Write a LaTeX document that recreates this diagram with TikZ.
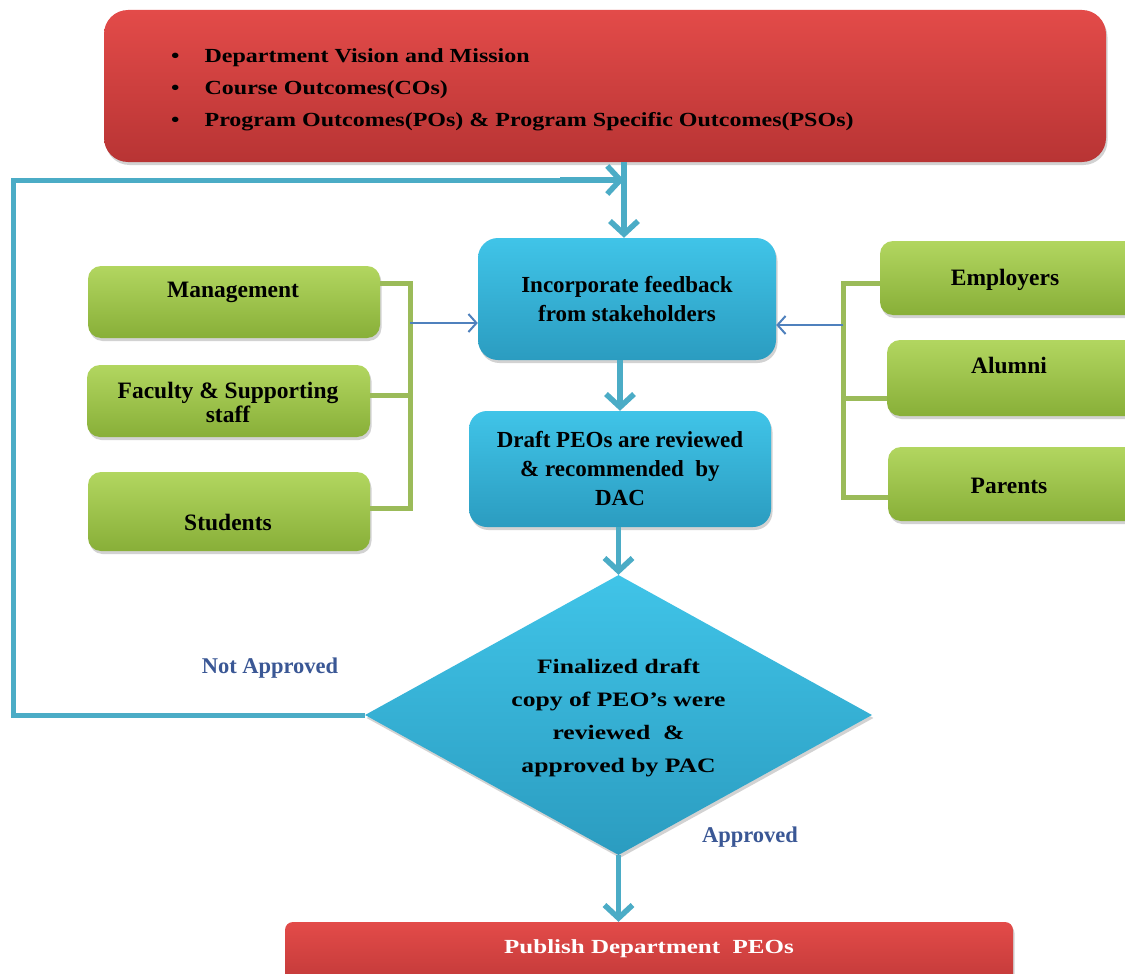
\documentclass[tikz,border=0pt]{standalone}
\usepackage{fontspec}
\setmainfont{Liberation Serif}
\newfontfamily\widefont{Liberation Serif}[FakeStretch=1.2]
\newfontfamily\widerfont{Liberation Serif}[FakeStretch=1.25]
\usetikzlibrary{shapes.geometric,arrows.meta,shadows,calc}
\definecolor{redT}{HTML}{E34B49}
\definecolor{redB}{HTML}{B83434}
\definecolor{bluT}{HTML}{40C4E8}
\definecolor{bluB}{HTML}{2B9CC0}
\definecolor{grnT}{HTML}{B2D660}
\definecolor{grnB}{HTML}{88AF38}
\definecolor{flowc}{HTML}{4BACC6}
\definecolor{brk}{HTML}{9BBB59}
\definecolor{fbc}{HTML}{4F81BD}
\definecolor{labc}{HTML}{3A5795}
\begin{document}
\begin{tikzpicture}[x=1pt,y=-1pt,
  shad/.style={drop shadow={opacity=0.35,shadow xshift=1.5pt,shadow yshift=-3pt}},
  redbox/.style={rectangle,rounded corners=24pt,top color=redT,bottom color=redB,draw=none,shad},
  blubox/.style={rectangle,rounded corners=20pt,top color=bluT,bottom color=bluB,draw=none,shad,
     align=center,font=\fontsize{23}{29}\selectfont\bfseries},
  grnbox/.style={rectangle,rounded corners=13pt,top color=grnT,bottom color=grnB,draw=none,shad},
  gtxt/.style={font=\fontsize{23.5}{24}\selectfont\bfseries,align=center,inner sep=0pt},
  dia/.style={diamond,aspect=1.81,inner sep=0pt,top color=bluT,bottom color=bluB,draw=none,shad},
  diatxt/.style={align=center,inner sep=0pt,font=\fontsize{20.5}{33}\selectfont\widerfont\bfseries},
  flow/.style={draw=flowc,line width=5.5pt,-{Straight Barb[length=13pt,width=28pt]}},
  loopline/.style={draw=flowc,line width=5pt},
  bracket/.style={draw=brk,line width=5pt},
  fb/.style={draw=fbc,line width=2pt,-{Straight Barb[length=8pt,width=18pt]}},
  lab/.style={text=labc,font=\fontsize{22.5}{24}\selectfont\bfseries,inner sep=0pt}]
\useasboundingbox[fill=white] (0,0) rectangle (1125,974);

% top box
\node[redbox,minimum width=1002pt,minimum height=152pt] (top) at (605,86) {};
\node[anchor=west,align=left,inner sep=0pt,font=\fontsize{20}{32}\selectfont\widefont\bfseries] (list) at (171,90)
 {\textbullet\hspace{25pt}Department Vision and Mission\\
  \textbullet\hspace{25pt}Course Outcomes(COs)\\
  \textbullet\hspace{25pt}Program Outcomes(POs) \& Program Specific Outcomes(PSOs)};

% central column
\node[blubox,minimum width=298pt,minimum height=122pt] (inc) at (627,299) {Incorporate feedback\\from stakeholders};
\node[blubox,minimum width=302pt,minimum height=116pt,rounded corners=18pt] (draft) at (620,469) {Draft PEOs are reviewed\\\& recommended~ by\\DAC};
\node[dia,minimum width=507pt,minimum height=280pt] (dec) at (618.5,715) {};
\node[diatxt] (dect) at (618.5,718) {Finalized draft\\copy of PEO’s were\\reviewed~ \&\\approved by PAC};
\node[redbox,rounded corners=8pt,minimum width=728pt,minimum height=80pt] (pub) at (649,962) {};
\node[text=white,inner sep=0pt,font=\fontsize{20}{24}\selectfont\widerfont\bfseries] (pubtxt) at (649,949) {Publish Department~ PEOs};

% left stakeholders
\node[grnbox,minimum width=292pt,minimum height=72pt] (mgmt) at (234,302) {};
\node[gtxt] (mgmtt) at (233,292) {Management};
\node[grnbox,minimum width=283pt,minimum height=72pt] (fac) at (228.5,401) {};
\node[gtxt] (fact) at (228,402) {Faculty \& Supporting\\staff};
\node[grnbox,minimum width=282pt,minimum height=79pt] (stud) at (229,511.5) {};
\node[gtxt] (studt) at (228,522) {Students};

% right stakeholders
\node[grnbox,minimum width=260pt,minimum height=74pt] (emp) at (1010,278) {};
\node[gtxt] (empt) at (1005,280) {Employers};
\node[grnbox,minimum width=253pt,minimum height=76pt] (alu) at (1013.5,378) {};
\node[gtxt] (alut) at (1009,365) {Alumni};
\node[grnbox,minimum width=252pt,minimum height=74pt] (par) at (1014,484) {};
\node[gtxt] (part) at (1009,486) {Parents};

% brackets
\draw[bracket] ($(mgmt.east)+(0,-19)$) -- (410,283) -- (410,508) -- ($(stud.east)+(0,-3.5)$);
\draw[bracket] ($(fac.east)+(0,-6)$) -- (410,395);
\draw[bracket] ($(emp.west)+(0,5)$) -- (843,283) -- (843,497) -- (par.west |- 0,497);
\draw[bracket] (alu.west |- 0,398) -- (843,398);
\draw[fb] (410,323) -- (inc.west |- 0,323);
\draw[fb] (843,325) -- (inc.east |- 0,325);

% flow
\coordinate (join) at (624,180);
\draw[flow] (top.south -| join) -- (inc.north -| join);
\draw[flow] (inc.south -| draft.north) -- (draft.north);
\draw[flow] (draft.south -| dec.north) -- (dec.north);
\draw[flow] (dec.south) -- (dec.south |- pub.north);
\draw[loopline] (dec.west) -| (13,180) -- (join);
\draw[flow] (560,180) -- (join);

% labels
\node[lab] (na) at (270,668) {Not Approved};
\node[lab] (ap) at (750,837) {Approved};
\end{tikzpicture}
\end{document}
